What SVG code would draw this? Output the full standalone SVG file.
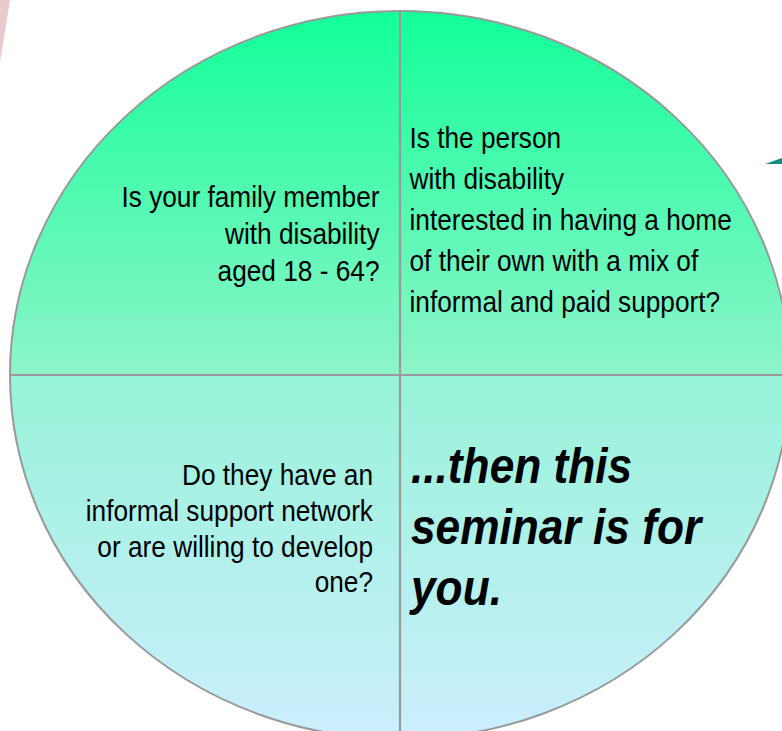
<svg xmlns="http://www.w3.org/2000/svg" width="782" height="731" viewBox="0 0 782 731">
  <style>
    .q { font-family: "Liberation Sans", Arial, sans-serif; font-size: 30px; fill: #000; }
    .big { font-family: "Liberation Sans", Arial, sans-serif; font-size: 50px; font-weight: bold; font-style: italic; fill: #000; }
    .div { stroke: #999999; stroke-width: 2.2; fill: none; }
  </style>
  <defs>
    <linearGradient id="fillGrad" gradientUnits="userSpaceOnUse" x1="0" y1="11" x2="0" y2="739">
      <stop offset="0" stop-color="#12FF98"/>
      <stop offset="0.5" stop-color="#8EF4CA"/>
      <stop offset="0.5" stop-color="#97F3D8"/>
      <stop offset="1" stop-color="#CCEEFE"/>
    </linearGradient>
  </defs>
  <rect width="782" height="731" fill="#FFFFFF"/>
  <polygon points="0,0 10,0 0,62" fill="#E8C9CC"/>
  <polygon points="765,164 782,158 782,164" fill="#168C80"/>

  <ellipse id="pie" cx="400" cy="375" rx="390" ry="364" fill="url(#fillGrad)" stroke="#999999" stroke-width="2"/>

  <g id="connectors">
    <line class="div" x1="400" y1="11" x2="400" y2="731"/>
    <line class="div" x1="10" y1="375" x2="782" y2="375"/>
  </g>

  <g id="q-top-left" transform="translate(379.5,0) scale(0.875,1)">
    <text class="q" x="0" y="207" text-anchor="end">Is your family member</text>
    <text class="q" x="0" y="244" text-anchor="end">with disability</text>
    <text class="q" x="0" y="281" text-anchor="end">aged 18 - 64?</text>
  </g>

  <g id="q-top-right" transform="translate(409.5,0) scale(0.875,1)">
    <text class="q" x="0" y="148">Is the person</text>
    <text class="q" x="0" y="189">with disability</text>
    <text class="q" x="0" y="230">interested in having a home</text>
    <text class="q" x="0" y="271">of their own with a mix of</text>
    <text class="q" x="0" y="312">informal and paid support?</text>
  </g>

  <g id="q-bottom-left" transform="translate(373,0) scale(0.875,1)">
    <text class="q" x="0" y="485" text-anchor="end">Do they have an</text>
    <text class="q" x="0" y="521" text-anchor="end">informal support network</text>
    <text class="q" x="0" y="557" text-anchor="end">or are willing to develop</text>
    <text class="q" x="0" y="592" text-anchor="end">one?</text>
  </g>

  <g id="q-bottom-right" transform="translate(411,0) scale(0.885,1)">
    <text class="big" x="0" y="483">...then this</text>
    <text class="big" x="0" y="544">seminar is for</text>
    <text class="big" x="0" y="605">you.</text>
  </g>
</svg>
